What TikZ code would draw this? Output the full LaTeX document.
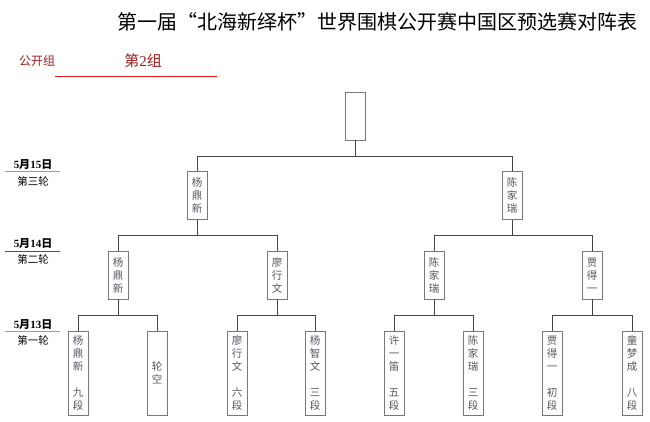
\documentclass[tikz,border=0pt]{standalone}
\usepackage{fontspec}
\setmainfont{Liberation Serif}
\newfontfamily\cjk{Noto Sans CJK SC}
\definecolor{darkred}{RGB}{150,30,30}
\definecolor{linered}{RGB}{230,20,20}
\definecolor{linepink}{RGB}{240,120,120}
\definecolor{boxgray}{RGB}{120,120,120}
\definecolor{namegray}{RGB}{85,85,95}
\definecolor{conngray}{RGB}{70,70,70}
\begin{document}
\begin{tikzpicture}[x=1pt,y=-1pt,
  box/.style={draw=boxgray, line width=0.8pt, minimum width=20pt, inner sep=0pt,
    font=\fontsize{10.5}{13}\selectfont\cjk, text=namegray, align=center},
  sbox/.style={box, minimum height=48pt},
  lbox/.style={box, minimum height=84pt},
  conn/.style={draw=conngray, line width=1pt},
  datelbl/.style={font=\fontsize{11}{13}\selectfont\bfseries, text=black, inner sep=0pt},
  roundlbl/.style={font=\fontsize{10.5}{12}\selectfont\cjk, text=black, inner sep=0pt}
]
\useasboundingbox (0,0) rectangle (650,422);
% title
\node[font=\fontsize{20}{24}\selectfont\cjk, inner sep=0pt] (title) at (377,22) {第一届“北海新绎杯”世界围棋公开赛中国区预选赛对阵表};
\node[font=\fontsize{12}{14}\selectfont\cjk, text=darkred, inner sep=0pt] (grp) at (37,61) {公开组};
\node[font=\fontsize{15}{18}\selectfont, text=darkred, inner sep=0pt] (grp2) at (143,61) {{\cjk 第}2{\cjk 组}};
\coordinate (u1) at (55,76); \coordinate (u2) at (217,76);
\draw[linered, line width=0.8pt] (u1) -- (u2);
% date labels
\node[datelbl] (d3) at (33,165) {5{\cjk 月}15{\cjk 日}};
\coordinate (l3a) at (5,172); \coordinate (l3b) at (60,172);
\draw[linepink, line width=1pt] (l3a) -- (l3b);
\node[roundlbl] (r3) at (33,181) {第三轮};
\node[datelbl] (d2) at (33,244) {5{\cjk 月}14{\cjk 日}};
\coordinate (l2a) at (5,251); \coordinate (l2b) at (60,251);
\draw[linered, line width=0.8pt] (l2a) -- (l2b);
\node[roundlbl] (r2) at (33,259) {第二轮};
\node[datelbl] (d1) at (33,325) {5{\cjk 月}13{\cjk 日}};
\coordinate (l1a) at (5,331); \coordinate (l1b) at (60,331);
\draw[linepink, line width=1pt] (l1a) -- (l1b);
\node[roundlbl] (r1) at (33,340) {第一轮};
% boxes
\node[sbox] (t) at (355,116) {};
\node[sbox] (s1) at (197,195.5) {杨\\鼎\\新};
\node[sbox] (s2) at (512,195.5) {陈\\家\\瑞};
\node[sbox] (q1) at (118,275) {杨\\鼎\\新};
\node[sbox] (q2) at (277,275) {廖\\行\\文};
\node[sbox] (q3) at (434,275) {陈\\家\\瑞};
\node[sbox] (q4) at (592,275) {贾\\得\\一};
\node[lbox] (p1) at (78,373) {杨\\鼎\\新\\[13pt]九\\段};
\node[lbox] (p2) at (157,373) {轮\\空};
\node[lbox] (p3) at (237,373) {廖\\行\\文\\[13pt]六\\段};
\node[lbox] (p4) at (315,373) {杨\\智\\文\\[13pt]三\\段};
\node[lbox] (p5) at (394,373) {许\\一\\笛\\[13pt]五\\段};
\node[lbox] (p6) at (473,373) {陈\\家\\瑞\\[13pt]三\\段};
\node[lbox] (p7) at (552,373) {贾\\得\\一\\[13pt]初\\段};
\node[lbox] (p8) at (632,373) {童\\梦\\成\\[13pt]八\\段};
% connectors
\draw[conn] (t.south) -- ++(0,16) coordinate (j0);
\draw[conn] (s1.north) |- (j0) -| (s2.north);
\draw[conn] (s1.south) -- ++(0,16) coordinate (j1);
\draw[conn] (q1.north) |- (j1) -| (q2.north);
\draw[conn] (s2.south) -- ++(0,16) coordinate (j2);
\draw[conn] (q3.north) |- (j2) -| (q4.north);
\draw[conn] (q1.south) -- ++(0,16) coordinate (k1);
\draw[conn] (p1.north) |- (k1) -| (p2.north);
\draw[conn] (q2.south) -- ++(0,16) coordinate (k2);
\draw[conn] (p3.north) |- (k2) -| (p4.north);
\draw[conn] (q3.south) -- ++(0,16) coordinate (k3);
\draw[conn] (p5.north) |- (k3) -| (p6.north);
\draw[conn] (q4.south) -- ++(0,16) coordinate (k4);
\draw[conn] (p7.north) |- (k4) -| (p8.north);
\end{tikzpicture}
\end{document}
